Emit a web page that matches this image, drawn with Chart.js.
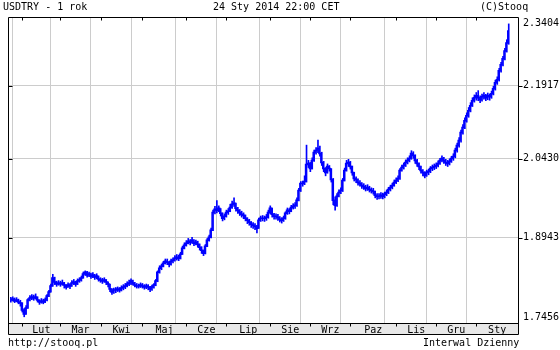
<!DOCTYPE html>
<html><head><meta charset="utf-8">
<script src="https://cdn.jsdelivr.net/npm/chart.js@4/dist/chart.umd.min.js"></script>
<style>
html,body{margin:0;padding:0;background:#fff;}
#wrap{position:relative;width:560px;height:350px;font-family:"DejaVu Sans Mono",monospace;font-size:10px;color:#000;overflow:hidden;}
canvas{position:absolute;left:0;top:0;}
.t{position:absolute;white-space:pre;line-height:12px;}
</style></head><body>
<div id="wrap">
<canvas id="c" width="560" height="350"></canvas>
<div class="t" style="left:3px;top:1px">USDTRY - 1 rok</div>
<div class="t" style="left:213px;top:1px">24 Sty 2014 22:00 CET</div>
<div class="t" style="left:480px;top:1px">(C)Stooq</div>
<div class="t" style="left:8px;top:337px">http://stooq.pl</div>
<div class="t" style="left:423px;top:337px">Interwal Dzienny</div>
</div>
<script>
// Daily USD/TRY, 24 Jan 2013 .. 24 Jan 2014 (trading-day index 0..261)
const closes = [
1.7845,1.7862,1.7828,1.7845,1.7811,1.7794,1.7675,1.7608,1.7709,1.7845,
1.7879,1.7896,1.7879,1.7896,1.7845,1.7811,1.7828,1.7811,1.7845,1.7913,
1.7981,1.8085,1.8224,1.8154,1.8120,1.8137,1.8120,1.8137,1.8102,1.8068,
1.8102,1.8085,1.8137,1.8154,1.8120,1.8172,1.8189,1.8224,1.8294,1.8328,
1.8276,1.8294,1.8259,1.8276,1.8241,1.8259,1.8206,1.8189,1.8172,1.8189,
1.8154,1.8120,1.8033,1.7981,1.8016,1.8016,1.8033,1.8016,1.8050,1.8068,
1.8085,1.8120,1.8137,1.8172,1.8137,1.8102,1.8085,1.8085,1.8102,1.8085,
1.8068,1.8085,1.8068,1.8033,1.8068,1.8102,1.8172,1.8328,1.8398,1.8433,
1.8486,1.8521,1.8503,1.8468,1.8521,1.8539,1.8574,1.8592,1.8574,1.8645,
1.8753,1.8807,1.8843,1.8879,1.8861,1.8897,1.8843,1.8861,1.8825,1.8771,
1.8717,1.8663,1.8789,1.8897,1.8951,1.9078,1.9408,1.9464,1.9446,1.9483,
1.9390,1.9298,1.9334,1.9408,1.9427,1.9501,1.9558,1.9577,1.9483,1.9446,
1.9408,1.9371,1.9353,1.9298,1.9261,1.9224,1.9188,1.9170,1.9151,1.9115,
1.9261,1.9298,1.9298,1.9298,1.9316,1.9408,1.9483,1.9371,1.9334,1.9334,
1.9316,1.9279,1.9261,1.9298,1.9390,1.9446,1.9427,1.9501,1.9520,1.9539,
1.9633,1.9821,1.9954,1.9954,1.9992,2.0319,2.0339,2.0242,2.0397,2.0554,
2.0593,2.0633,2.0534,2.0358,2.0242,2.0165,2.0280,2.0242,2.0030,1.9633,
1.9539,1.9708,1.9783,1.9821,2.0011,2.0203,2.0339,2.0358,2.0280,2.0165,
2.0049,2.0030,1.9973,1.9954,1.9916,1.9897,1.9859,1.9878,1.9840,1.9821,
1.9802,1.9727,1.9708,1.9708,1.9727,1.9708,1.9746,1.9783,1.9840,1.9878,
1.9916,1.9973,2.0011,2.0049,2.0203,2.0261,2.0300,2.0358,2.0397,2.0436,
2.0534,2.0495,2.0397,2.0339,2.0280,2.0203,2.0165,2.0107,2.0165,2.0184,
2.0242,2.0261,2.0280,2.0300,2.0339,2.0397,2.0436,2.0397,2.0358,2.0339,
2.0378,2.0436,2.0475,2.0593,2.0692,2.0791,2.0950,2.1051,2.1191,2.1293,
2.1395,2.1497,2.1600,2.1662,2.1704,2.1662,2.1621,2.1683,2.1704,2.1662,
2.1704,2.1683,2.1745,2.1850,2.1975,2.2038,2.2228,2.2356,2.2485,2.2656,
2.2830,2.3093
];
const highs = [
1.7890,1.7900,1.7880,1.7885,1.7860,1.7840,1.7800,1.7700,1.7750,1.7870,
1.7920,1.7940,1.7930,1.7950,1.7900,1.7850,1.7870,1.7860,1.7880,1.7940,
1.8010,1.8120,1.8290,1.8240,1.8170,1.8180,1.8170,1.8190,1.8150,1.8110,
1.8140,1.8130,1.8180,1.8200,1.8170,1.8210,1.8230,1.8260,1.8330,1.8350,
1.8340,1.8330,1.8310,1.8320,1.8290,1.8300,1.8260,1.8230,1.8220,1.8230,
1.8200,1.8160,1.8120,1.8040,1.8050,1.8060,1.8070,1.8060,1.8090,1.8110,
1.8130,1.8160,1.8190,1.8210,1.8190,1.8150,1.8130,1.8120,1.8140,1.8130,
1.8110,1.8120,1.8110,1.8080,1.8100,1.8130,1.8200,1.8350,1.8440,1.8470,
1.8520,1.8560,1.8560,1.8520,1.8560,1.8580,1.8620,1.8640,1.8630,1.8680,
1.8790,1.8850,1.8890,1.8930,1.8910,1.8950,1.8910,1.8900,1.8880,1.8830,
1.8780,1.8720,1.8820,1.8930,1.8990,1.9120,1.9450,1.9520,1.9630,1.9530,
1.9480,1.9400,1.9380,1.9450,1.9480,1.9560,1.9620,1.9680,1.9580,1.9500,
1.9460,1.9430,1.9400,1.9360,1.9310,1.9280,1.9240,1.9220,1.9200,1.9170,
1.9300,1.9340,1.9350,1.9340,1.9370,1.9450,1.9530,1.9490,1.9390,1.9380,
1.9370,1.9330,1.9310,1.9340,1.9420,1.9490,1.9480,1.9540,1.9570,1.9590,
1.9680,1.9860,1.9990,2.0000,2.0100,2.0700,2.0400,2.0360,2.0450,2.0600,
2.0650,2.0800,2.0680,2.0560,2.0380,2.0260,2.0330,2.0300,2.0240,2.0050,
1.9700,1.9760,1.9830,1.9870,2.0050,2.0250,2.0400,2.0420,2.0380,2.0290,
2.0170,2.0080,2.0040,2.0010,1.9970,1.9950,1.9920,1.9930,1.9900,1.9870,
1.9860,1.9810,1.9760,1.9760,1.9780,1.9770,1.9790,1.9830,1.9880,1.9920,
1.9960,2.0020,2.0060,2.0100,2.0240,2.0310,2.0350,2.0410,2.0450,2.0490,
2.0590,2.0570,2.0510,2.0420,2.0350,2.0290,2.0220,2.0180,2.0210,2.0230,
2.0280,2.0310,2.0330,2.0350,2.0390,2.0440,2.0490,2.0460,2.0420,2.0400,
2.0430,2.0480,2.0530,2.0640,2.0740,2.0850,2.1000,2.1110,2.1250,2.1350,
2.1460,2.1560,2.1660,2.1720,2.1770,2.1810,2.1700,2.1740,2.1770,2.1730,
2.1760,2.1740,2.1800,2.1900,2.2030,2.2100,2.2280,2.2410,2.2540,2.2710,
2.2900,2.3250
];
const lows = [
1.7810,1.7828,1.7800,1.7815,1.7780,1.7740,1.7640,1.7560,1.7600,1.7700,
1.7830,1.7850,1.7840,1.7860,1.7810,1.7770,1.7790,1.7780,1.7800,1.7830,
1.7900,1.7980,1.8080,1.8110,1.8080,1.8100,1.8080,1.8100,1.8050,1.8030,
1.8060,1.8040,1.8080,1.8110,1.8080,1.8110,1.8150,1.8170,1.8220,1.8270,
1.8240,1.8250,1.8220,1.8230,1.8200,1.8210,1.8170,1.8150,1.8130,1.8150,
1.8110,1.8070,1.7990,1.7940,1.7960,1.7970,1.7990,1.7980,1.8000,1.8020,
1.8040,1.8070,1.8090,1.8110,1.8100,1.8070,1.8050,1.8050,1.8060,1.8050,
1.8030,1.8040,1.8020,1.7990,1.8010,1.8050,1.8090,1.8160,1.8310,1.8370,
1.8420,1.8470,1.8460,1.8420,1.8450,1.8490,1.8520,1.8540,1.8530,1.8560,
1.8640,1.8740,1.8790,1.8830,1.8810,1.8840,1.8800,1.8810,1.8770,1.8720,
1.8660,1.8620,1.8650,1.8780,1.8880,1.8940,1.9070,1.9380,1.9400,1.9420,
1.9340,1.9250,1.9270,1.9320,1.9370,1.9420,1.9480,1.9520,1.9430,1.9390,
1.9350,1.9320,1.9290,1.9250,1.9200,1.9170,1.9130,1.9110,1.9090,1.9030,
1.9110,1.9240,1.9250,1.9240,1.9260,1.9300,1.9380,1.9320,1.9280,1.9280,
1.9260,1.9230,1.9210,1.9240,1.9280,1.9370,1.9380,1.9420,1.9470,1.9480,
1.9520,1.9620,1.9800,1.9900,1.9930,1.9980,2.0260,2.0180,2.0230,2.0380,
2.0520,2.0550,2.0480,2.0300,2.0180,2.0100,2.0150,2.0190,1.9980,1.9550,
1.9450,1.9520,1.9700,1.9760,1.9800,2.0000,2.0190,2.0280,2.0230,2.0110,
2.0000,1.9970,1.9920,1.9900,1.9860,1.9840,1.9810,1.9820,1.9790,1.9770,
1.9750,1.9680,1.9650,1.9660,1.9670,1.9660,1.9680,1.9720,1.9760,1.9810,
1.9850,1.9900,1.9950,1.9990,2.0030,2.0190,2.0230,2.0280,2.0330,2.0370,
2.0420,2.0440,2.0340,2.0280,2.0220,2.0150,2.0100,2.0060,2.0090,2.0120,
2.0160,2.0200,2.0220,2.0240,2.0270,2.0320,2.0370,2.0340,2.0300,2.0280,
2.0310,2.0360,2.0400,2.0450,2.0560,2.0660,2.0760,2.0920,2.1030,2.1160,
2.1260,2.1370,2.1480,2.1570,2.1610,2.1600,2.1560,2.1590,2.1630,2.1600,
2.1620,2.1610,2.1650,2.1720,2.1820,2.1940,2.2010,2.2200,2.2330,2.2460,
2.2630,2.2800
];
// index of first trading day of each month
const monthStarts = [6, 26, 47, 69, 92, 113, 136, 157, 178, 202, 223, 244];
const monthLabels = ["Lut","Mar","Kwi","Maj","Cze","Lip","Sie","Wrz","Paz","Lis","Gru","Sty"];
const yTicks = [1.7456, 1.8943, 2.0430, 2.1917, 2.3404];

const FONT = {family: "DejaVu Sans Mono", size: 10};
const BLUE = '#0000ff';
const closePts = closes.map((v, i) => ({x: i, y: v}));
const rangePts = highs.map((h, i) => ({x: i, y: [lows[i], h]}));

const framePlugin = {
  id: 'frame',
  beforeDraw(chart) {
    const {ctx, chartArea: a} = chart;
    ctx.save();
    ctx.fillStyle = '#e8e8e8';
    ctx.fillRect(a.left, a.bottom, a.right - a.left, 11);
    ctx.restore();
  },
  afterDraw(chart) {
    const {ctx, chartArea: a, scales} = chart;
    ctx.save();
    ctx.strokeStyle = '#000';
    ctx.lineWidth = 1;
    const L = Math.round(a.left) + 0.5, R = Math.round(a.right) + 0.5;
    const T = Math.round(a.top) + 0.5, B = Math.round(a.bottom) + 0.5, BB = B + 11;
    ctx.beginPath();
    ctx.moveTo(L, T); ctx.lineTo(R, T); ctx.lineTo(R, BB); ctx.lineTo(L, BB); ctx.closePath();
    ctx.moveTo(L, B); ctx.lineTo(R, B);
    monthStarts.forEach(m => {
      const x = Math.round(scales.x.getPixelForValue(m)) + 0.5;
      ctx.moveTo(x, T); ctx.lineTo(x, T + 3);
      ctx.moveTo(x, B); ctx.lineTo(x, B + 3);
    });
    yTicks.slice(1, -1).forEach(v => {
      const y = Math.round(scales.y.getPixelForValue(v)) + 0.5;
      ctx.moveTo(L, y); ctx.lineTo(L + 4, y);
      ctx.moveTo(R, y); ctx.lineTo(R + 4, y);
    });
    ctx.stroke();
    ctx.restore();
  }
};

new Chart(document.getElementById('c'), {
  type: 'line',
  data: {
    datasets: [{
      type: 'line',
      data: closePts,
      borderColor: BLUE,
      borderWidth: 1.5,
      pointRadius: 0,
      stepped: 'middle',
      fill: false,
      order: 1
    }, {
      type: 'bar',
      data: rangePts,
      backgroundColor: BLUE,
      borderWidth: 0,
      barThickness: 1,
      grouped: false,
      order: 2
    }]
  },
  options: {
    responsive: false,
    animation: false,
    devicePixelRatio: 1,
    layout: {padding: {left: 8, top: 16, right: 0, bottom: 0}},
    plugins: {legend: {display: false}, tooltip: {enabled: false}},
    scales: {
      x: {
        type: 'linear',
        position: 'bottom',
        offset: false,
        min: -1.494,
        max: 265.86,
        afterBuildTicks(scale) {
          const t = [];
          monthStarts.forEach((m, k) => {
            const next = k + 1 < monthStarts.length ? monthStarts[k + 1] : scale.max;
            t.push({value: m, label: ''});
            t.push({value: (m + next) / 2, label: monthLabels[k]});
          });
          scale.ticks = t;
        },
        afterFit(scale) { scale.height = 27; },
        grid: {
          color: ctx => (ctx.tick && ctx.tick.label === '') ? '#cccccc' : 'rgba(0,0,0,0)',
          drawTicks: false,
          lineWidth: 1
        },
        border: {display: false},
        ticks: {
          autoSkip: false, maxRotation: 0, minRotation: 0,
          padding: 1, color: '#000', font: FONT,
          callback(v, i, ticks) { return ticks[i].label; }
        }
      },
      y: {
        type: 'logarithmic',
        position: 'right',
        min: 1.7456,
        max: 2.3404,
        afterBuildTicks(scale) { scale.ticks = yTicks.map(v => ({value: v})); },
        afterFit(scale) { scale.width = 42; },
        grid: {
          color: ctx => (ctx.index === 0 || ctx.index === yTicks.length - 1) ? 'rgba(0,0,0,0)' : '#cccccc',
          drawTicks: false,
          lineWidth: 1
        },
        border: {display: false},
        ticks: {
          autoSkip: false, padding: 5, color: '#000', font: FONT,
          callback(v, i) {
            const s = Number(v).toFixed(4);
            if (i === 0) return [s, ''];
            if (i === yTicks.length - 1) return ['', s];
            return s;
          }
        }
      }
    }
  },
  plugins: [framePlugin]
});
</script>
</body></html>
